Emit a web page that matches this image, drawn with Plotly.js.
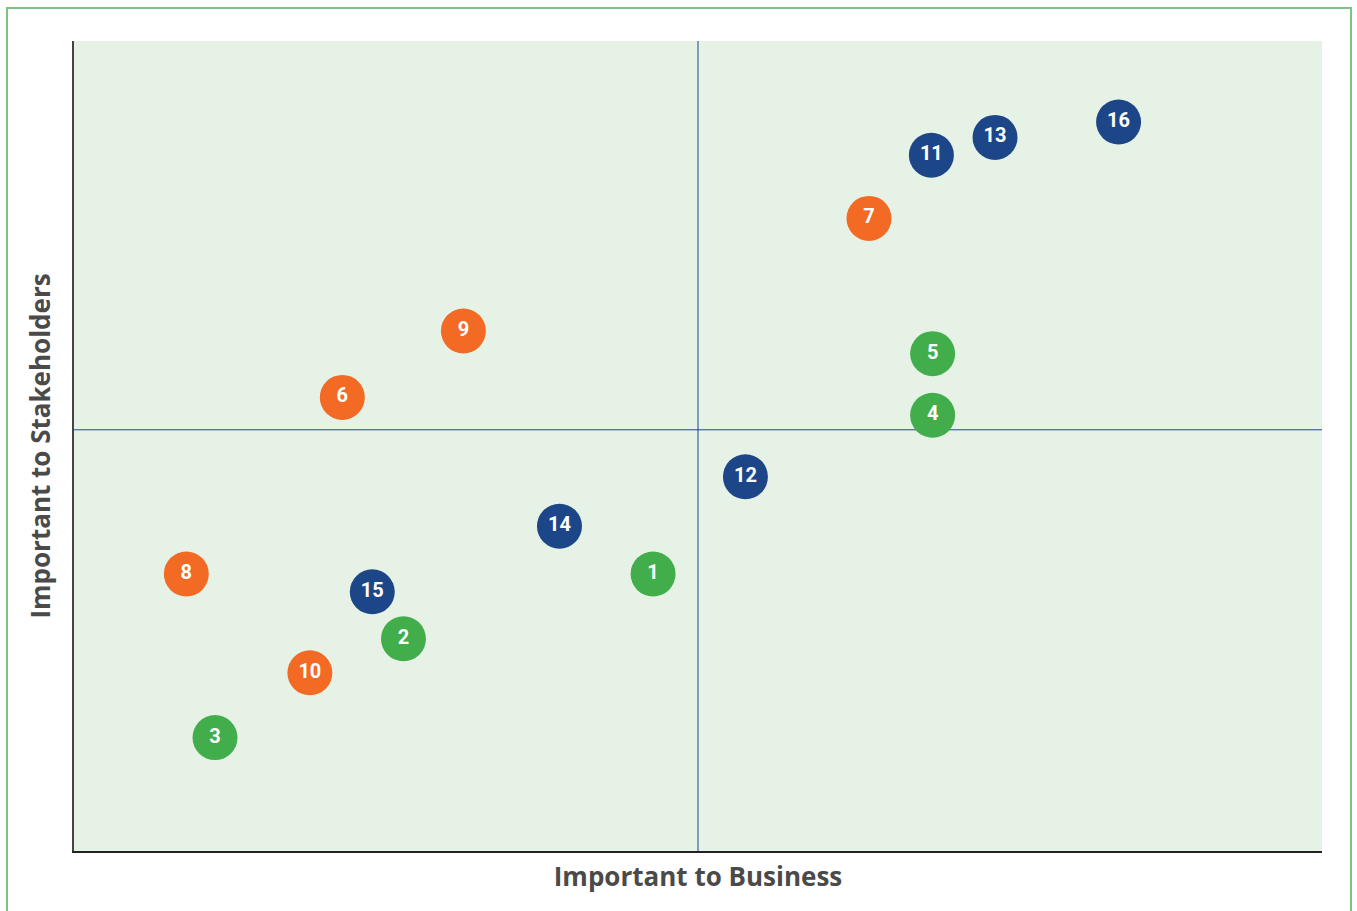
<!DOCTYPE html>
<html><head><meta charset="utf-8">
<script src="https://cdn.plot.ly/plotly-3.0.1.min.js"></script>
<style>
html,body{margin:0;padding:0;background:#fff;}
#frame{position:absolute;left:6px;top:7px;width:1346px;height:960px;border:2px solid #7cc47f;pointer-events:none;box-sizing:border-box;}
#chart{position:absolute;left:0;top:0;width:1357px;height:911px;}
</style></head>
<body>
<div id="chart"></div>
<div id="frame"></div>
<script>
const ids = ["1","2","3","4","5","6","7","8","9","10","11","12","13","14","15","16"];
const business = [4.64,2.64,1.13,6.88,6.88,2.15,6.37,0.90,3.12,1.89,6.87,5.38,7.38,3.89,2.39,8.37];
const stakeholders = [3.42,2.62,1.40,5.38,6.14,5.60,7.81,3.42,6.42,2.20,8.59,4.62,8.81,4.01,3.20,9.00];
const groups = ["g","g","g","g","g","o","o","o","o","o","b","b","b","b","b","b"];
const groupColors = {g:"#42ad4b", o:"#f26a24", b:"#1d4689"};
const xDivider = 5.0;
const yDivider = 5.2;

const traces = ["g","o","b"].map(k => {
  const idx = groups.map((g,i)=>g===k?i:-1).filter(i=>i>=0);
  return {
    type:"scatter", mode:"markers+text",
    x: idx.map(i=>business[i]), y: idx.map(i=>stakeholders[i]),
    text: idx.map(i=>ids[i]),
    textposition:"middle center",
    textfont:{family:"Roboto", size:20, color:"#ffffff", weight:700},
    marker:{size:45, color:groupColors[k], line:{width:0}},
    hoverinfo:"skip", showlegend:false, cliponaxis:false
  };
});

const layout = {
  width:1357, height:911,
  margin:{l:74, r:35, t:41, b:60},
  paper_bgcolor:"#ffffff", plot_bgcolor:"#e7f2e6",
  xaxis:{range:[0,10], showgrid:false, zeroline:false, showticklabels:false, ticks:"",
    showline:true, linecolor:"#222222", linewidth:2,
    title:{text:"Important to Business", standoff:16, font:{family:"Open Sans", size:26, color:"#4a4a4a", weight:700}}},
  yaxis:{range:[0,10], showgrid:false, zeroline:false, showticklabels:false, ticks:"",
    showline:true, linecolor:"#444444", linewidth:2,
    title:{text:"Important to Stakeholders", standoff:14, font:{family:"Open Sans", size:26, color:"#4a4a4a", weight:700}}},
  shapes:[
    {type:"line", xref:"x", yref:"paper", x0:xDivider, x1:xDivider, y0:0, y1:1, line:{color:"#1d4689", width:1}, layer:"below"},
    {type:"line", xref:"paper", yref:"y", x0:0, x1:1, y0:yDivider, y1:yDivider, line:{color:"#1d4689", width:1}, layer:"below"}
  ]
};
Plotly.newPlot("chart", traces, layout, {displayModeBar:false, staticPlot:true});
</script>
</body></html>
